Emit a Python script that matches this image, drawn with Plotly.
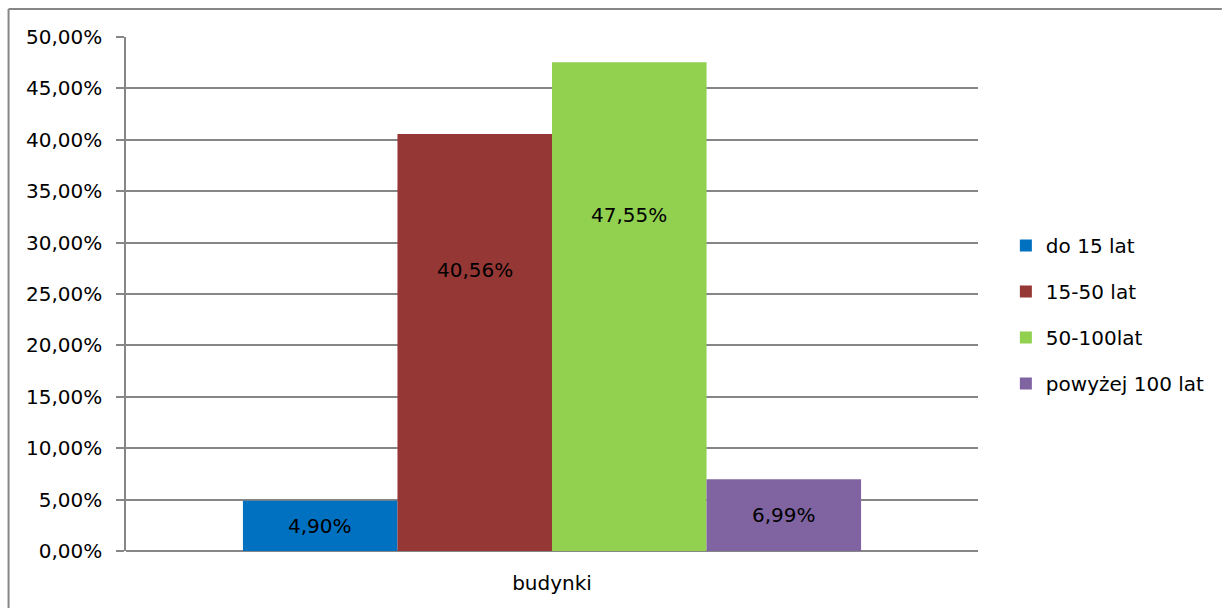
import plotly.graph_objects as go

# Data
categories = ["budynki"]
series_names = ["do 15 lat", "15-50 lat", "50-100lat", "powyżej 100 lat"]
series_values = [0.0490, 0.4056, 0.4755, 0.0699]
# vertical position (in axis units) where each value label sits
label_pos = [0.0245, 0.273, 0.327, 0.035]

colors = ["#0070C0", "#953735", "#92D050", "#8064A2"]
grid_color = "#868686"
font_family = "DejaVu Sans, Verdana, sans-serif"

W, H = 1222, 608
ML, MR, MT, MB = 126, 240, 37, 57
PW, PH = W - ML - MR, H - MT - MB
BARGAP = 0.2745

fig = go.Figure()
for i, (name, val) in enumerate(zip(series_names, series_values)):
    fig.add_trace(go.Bar(
        x=categories, y=[val], name=name,
        marker=dict(color=colors[i], line=dict(width=0)),
        legendgroup=f"g{i}",
        hoverinfo="skip",
    ))

# value labels centred on each bar
n = len(series_values)
for i, val in enumerate(series_values):
    xc = BARGAP / 2 + (i + 0.5) * (1 - BARGAP) / n
    fig.add_annotation(
        xref="paper", yref="y", x=xc, y=label_pos[i],
        xanchor="center", yanchor="middle",
        text=f"{val*100:.2f}%".replace(".", ","),
        showarrow=False, font=dict(size=20, color="#000000", family=font_family),
    )

# chart frame (top and left edges)
def px_x(p):
    return (p - ML) / PW

def px_y(p):
    return 1 - (p - MT) / PH

frame = dict(color=grid_color, width=2)
fig.add_shape(type="line", xref="paper", yref="paper",
              x0=px_x(8), x1=px_x(W + 5), y0=px_y(9), y1=px_y(9), line=frame)
fig.add_shape(type="line", xref="paper", yref="paper",
              x0=px_x(8), x1=px_x(8), y0=px_y(9), y1=px_y(H + 5), line=frame)

fig.update_layout(
    width=W, height=H,
    margin=dict(l=ML, r=MR, t=MT, b=MB),
    paper_bgcolor="white", plot_bgcolor="white",
    barmode="group", bargap=BARGAP, bargroupgap=0,
    separators=", ",
    font=dict(family=font_family, size=20, color="#000000"),
    showlegend=True,
    legend=dict(
        x=px_x(1010), xanchor="left",
        y=px_y(382 + 21), yanchor="bottom",
        font=dict(size=20, family=font_family),
        tracegroupgap=17,
        bgcolor="rgba(0,0,0,0)",
        itemclick=False, itemdoubleclick=False,
    ),
    xaxis=dict(
        range=[-0.5, 0.5], showgrid=False, zeroline=False,
        showline=False, ticks="", tickfont=dict(size=20),
        ticklabelstandoff=18,
    ),
    yaxis=dict(
        range=[0, 0.5], dtick=0.05, tickformat=".2%",
        showgrid=True, gridcolor=grid_color, gridwidth=1.5,
        zeroline=True, zerolinecolor=grid_color, zerolinewidth=2,
        showline=True, linecolor=grid_color, linewidth=1.5,
        ticks="outside", ticklen=8, tickcolor=grid_color, tickwidth=1.5,
        ticklabelstandoff=10,
        tickfont=dict(size=20),
    ),
)

fig.write_html("out.html")
